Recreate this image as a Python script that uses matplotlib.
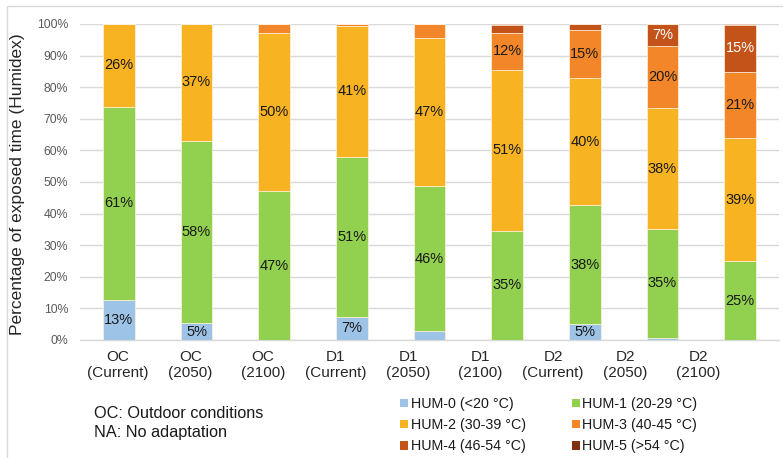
import matplotlib
matplotlib.use("Agg")
import matplotlib.pyplot as plt
from matplotlib.patches import Rectangle, Patch
import numpy as np

plt.rcParams['font.family'] = ['Liberation Sans', 'DejaVu Sans']

categories = ["OC\n(Current)", "OC\n(2050)", "OC\n(2100)", "D1\n(Current)", "D1\n(2050)",
              "D1\n(2100)", "D2\n(Current)", "D2\n(2050)", "D2\n(2100)"]
series_names = ["HUM-0 (<20 °C)", "HUM-1 (20-29 °C)", "HUM-2 (30-39 °C)",
                "HUM-3 (40-45 °C)", "HUM-4 (46-54 °C)", "HUM-5 (>54 °C)"]
hum0 = [12.6, 5.3, 0.0, 7.3, 2.7, 0.0, 5.0, 0.6, 0.0]
hum1 = [61.2, 57.7, 47.0, 50.7, 46.1, 34.6, 37.6, 34.6, 24.9]
hum2 = [26.2, 37.0, 50.2, 41.3, 46.9, 50.9, 40.2, 38.1, 39.0]
hum3 = [0.0, 0.0, 2.8, 0.7, 4.3, 11.8, 15.3, 19.6, 20.9]
hum4 = [0.0, 0.0, 0.0, 0.0, 0.0, 2.3, 1.9, 7.1, 14.9]
hum5 = [0.0, 0.0, 0.0, 0.0, 0.0, 0.4, 0.0, 0.0, 0.3]
yticks = [0, 10, 20, 30, 40, 50, 60, 70, 80, 90, 100]
notes = ["OC: Outdoor conditions", "NA: No adaptation"]

colors = ["#9DC3E6", "#92D050", "#F8B323", "#F4862A", "#C4531A", "#7E3310"]
label_colors = ["#1a1a1a", "#1a1a1a", "#1a1a1a", "#1a1a1a", "white", "white"]

W, H = 783, 458
fig = plt.figure(figsize=(W / 100, H / 100), dpi=100)
ax = fig.add_axes([80 / W, 1 - 340 / H, (779 - 80) / W, (340 - 24) / H])

series = [hum0, hum1, hum2, hum3, hum4, hum5]
x = np.arange(len(categories))
bottom = np.zeros(len(categories))
handles = []
for vals, col, lc, name in zip(series, colors, label_colors, series_names):
    vals = np.array(vals)
    ax.bar(x, vals, 0.41, bottom=bottom, color=col, edgecolor="#FFF2E0",
           linewidth=0.5, zorder=3)
    for xi, v, b in zip(x, vals, bottom):
        if v >= 4.5:
            ax.text(xi, b + v / 2, f"{v:.0f}%", ha="center", va="center",
                    fontsize=10.5, color=lc, zorder=4)
    bottom += vals
    handles.append(Patch(facecolor=col, edgecolor="none", label=name))

ax.set_xlim(-0.5, len(categories) - 0.5)
ax.set_ylim(0, 100)
ax.set_yticks(yticks)
ax.set_yticklabels([f"{t}%" for t in yticks], fontsize=8.8, color="#595959")
ax.yaxis.grid(True, color="#D9D9D9", linewidth=1.0, zorder=0)
ax.set_axisbelow(True)
for s in ["top", "right", "left"]:
    ax.spines[s].set_visible(False)
ax.spines["bottom"].set_color("#D9D9D9")
ax.spines["bottom"].set_linewidth(1.0)
ax.tick_params(axis="y", length=0, pad=8.5)

# category labels (offset from bars as in the original layout)
label_pos = -0.01 + 0.9334 * x
ax.set_xticks(label_pos)
ax.set_xticklabels(categories, fontsize=11, color="#262626", linespacing=1.2)
ax.tick_params(axis="x", length=0, pad=7)

fig.text(18 / W, 1 - 184 / H, "Percentage of exposed time (Humidex)", rotation=90,
         ha="center", va="center", fontsize=12.5, color="#262626")

fig.text(94 / W, 1 - 413 / H, notes[0], ha="left", va="center", fontsize=11.7, color="#1a1a1a")
fig.text(94 / W, 1 - 433 / H, notes[1], ha="left", va="center", fontsize=11.7, color="#1a1a1a")

order = [0, 2, 4, 1, 3, 5]
leg = fig.legend([handles[i] for i in order], [series_names[i] for i in order],
                 loc="upper left", bbox_to_anchor=(400 / W, 1 - 397 / H), ncol=2,
                 frameon=False, fontsize=10.3, handlelength=0.55, handleheight=0.55,
                 handletextpad=0.2, columnspacing=3.2, labelspacing=0.5,
                 borderpad=0, borderaxespad=0)
for t in leg.get_texts():
    t.set_color("#1a1a1a")

fig.patches.append(Rectangle((7 / W, -0.05), 1.1, 1.05 - 6 / H, transform=fig.transFigure,
                             fill=False, edgecolor="#D9D9D9", linewidth=1.0))

fig.savefig("out.png", dpi=100)
